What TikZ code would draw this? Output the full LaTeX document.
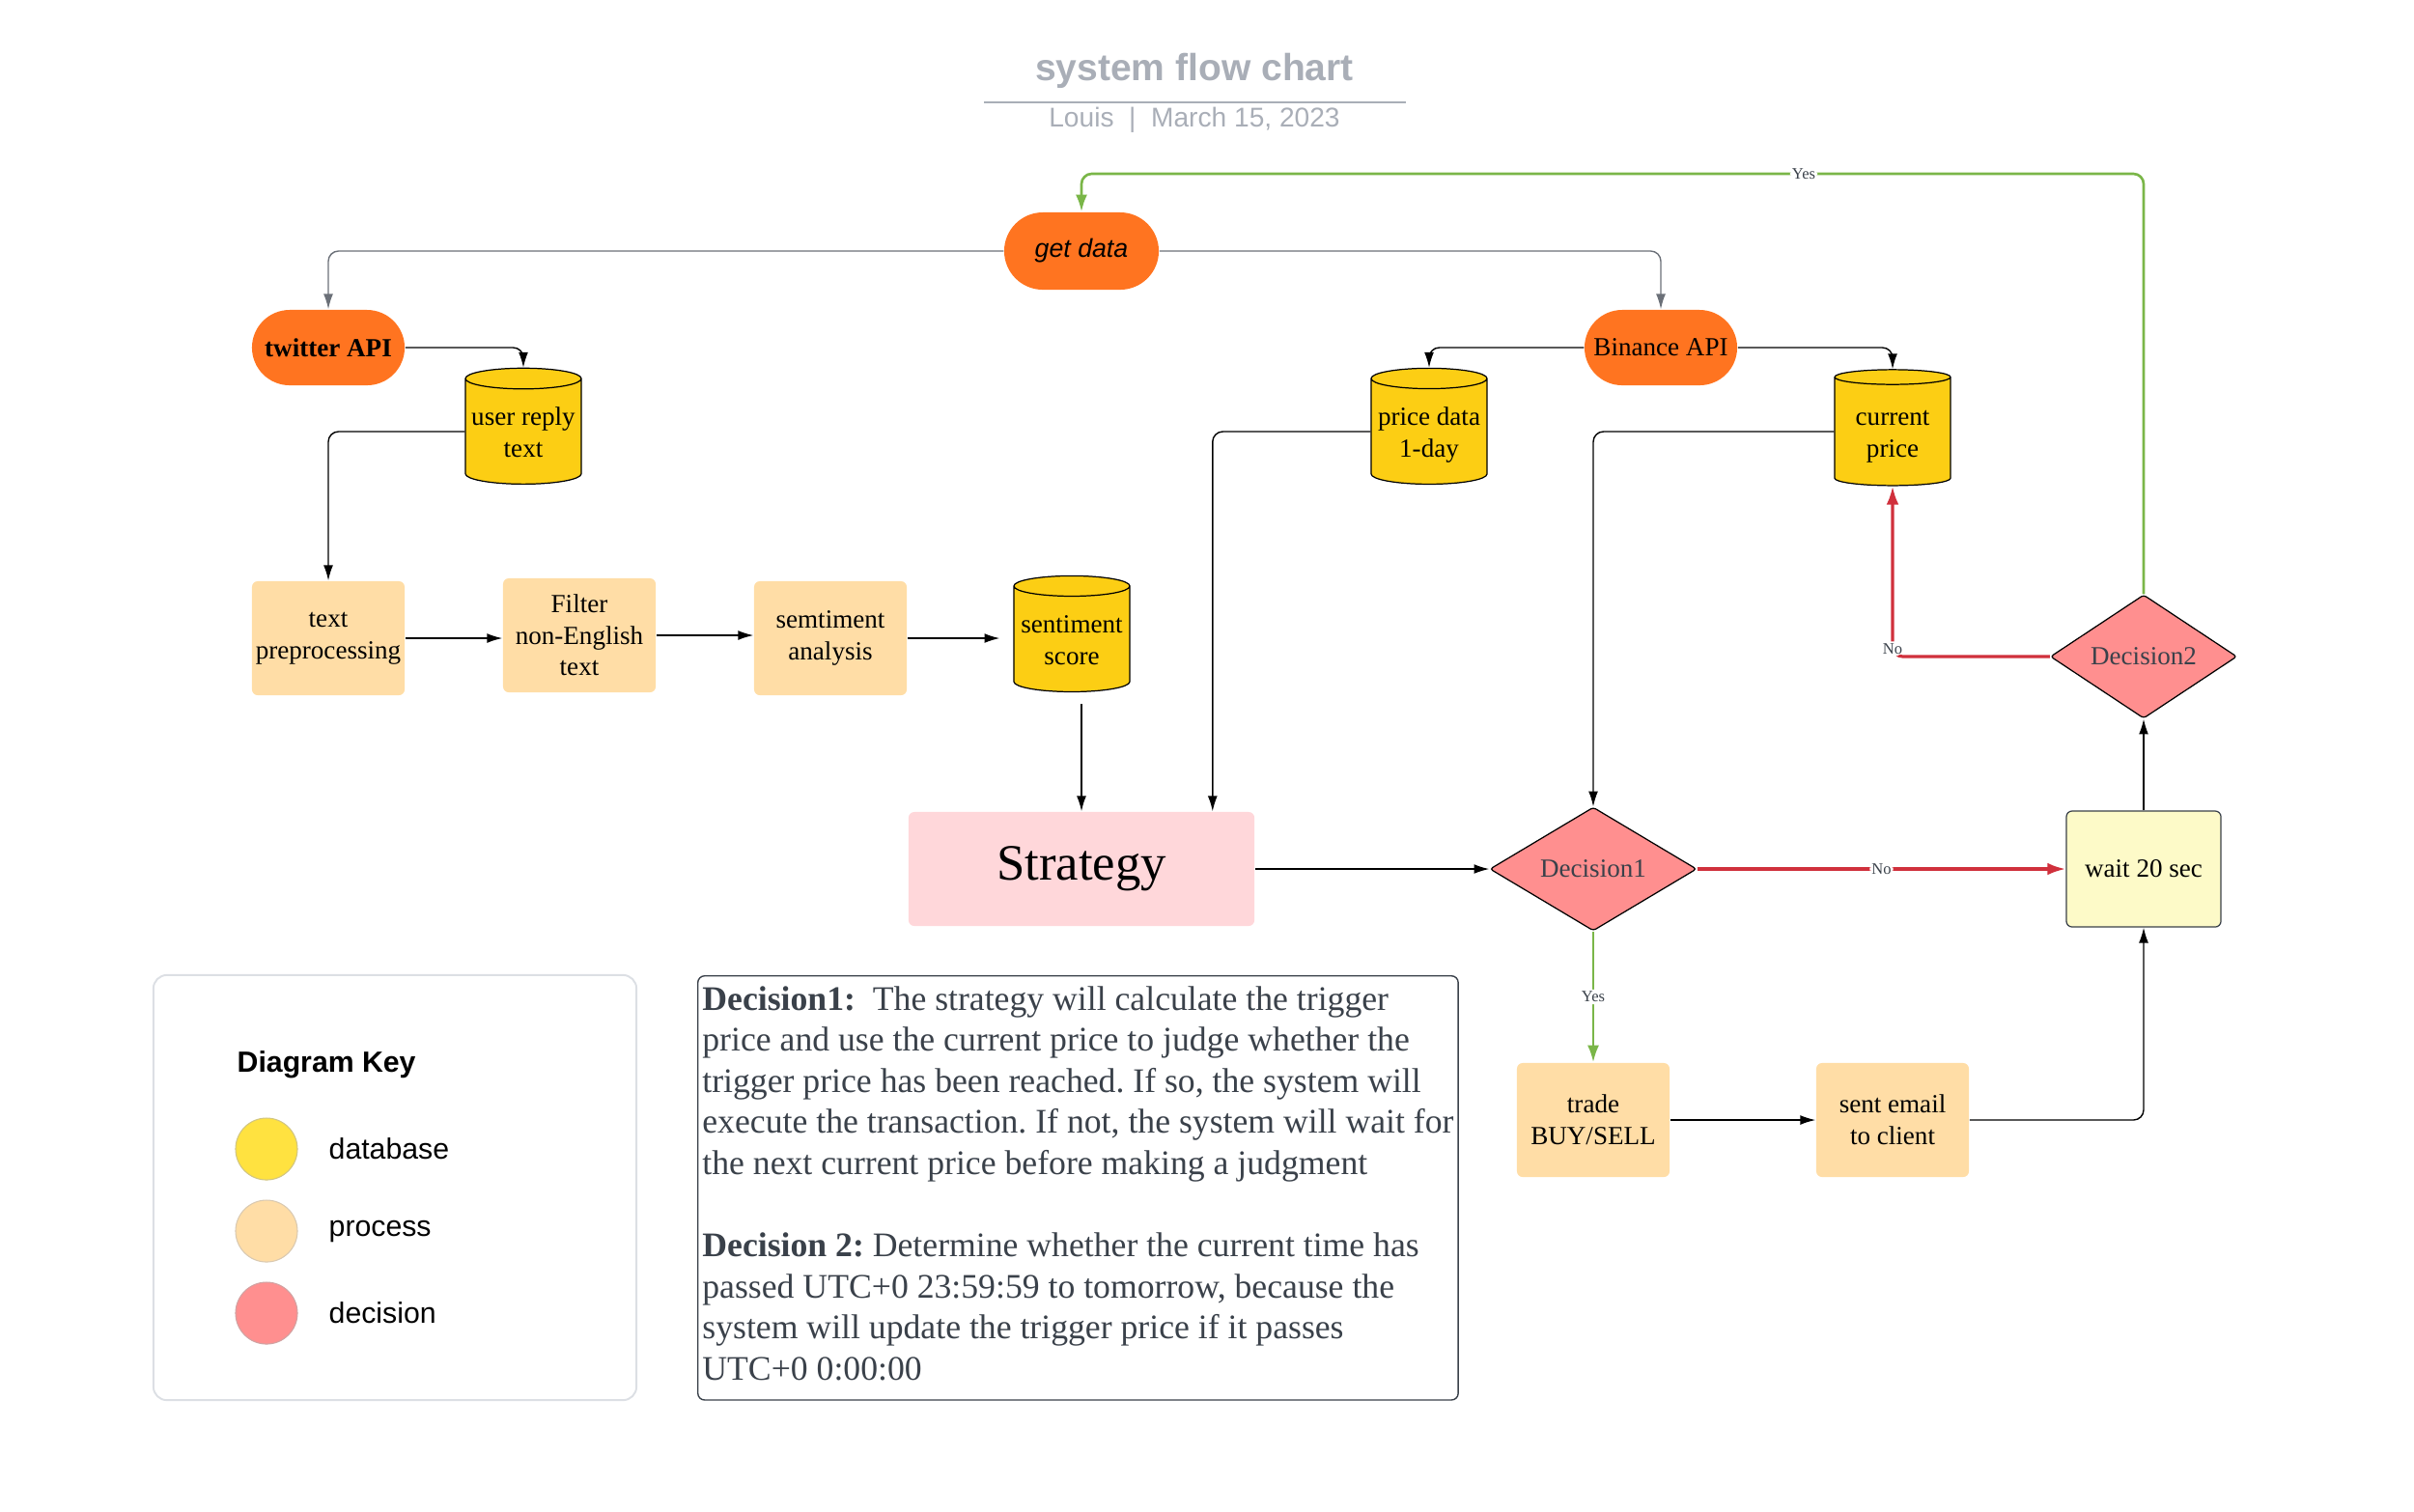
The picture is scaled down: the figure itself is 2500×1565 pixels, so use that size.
\documentclass[tikz,border=0pt]{standalone}
\usepackage{fontspec}
\setmainfont{Liberation Serif}
\setsansfont{Liberation Sans}
\usetikzlibrary{shapes.geometric,arrows.meta}
\definecolor{apiorange}{HTML}{FF7420}
\definecolor{dbyellow}{HTML}{FCCE14}
\definecolor{procfill}{HTML}{FFDDA6}
\definecolor{stratpink}{HTML}{FFD7DA}
\definecolor{decred}{HTML}{FF8F8F}
\definecolor{waitfill}{HTML}{FDFAC8}
\definecolor{noline}{HTML}{D0303C}
\definecolor{yesline}{HTML}{7AB648}
\definecolor{titlegray}{HTML}{A9AEB7}
\definecolor{textgray}{HTML}{3A414A}
\definecolor{linegray}{HTML}{6B7078}
\definecolor{keyborder}{HTML}{DCDFE4}
\definecolor{keyyellow}{HTML}{FFE240}
\newcommand\flowfont{\fontsize{7.7}{9.3}\selectfont}
\tikzset{
  apinode/.style={rectangle, rounded corners=0.39cm, fill=apiorange, minimum width=1.58cm, minimum height=0.78cm, inner sep=0pt, font=\flowfont},
  dbnode/.style={cylinder, shape border rotate=90, aspect=0.2, draw=black, line width=0.35pt, fill=dbyellow, minimum width=1.2cm, minimum height=1.2cm, inner sep=0pt, align=center, text height=16.5pt, text depth=1.7pt, font=\flowfont},
  procnode/.style={rectangle, rounded corners=0.06cm, fill=procfill, minimum width=1.58cm, minimum height=1.18cm, inner sep=0pt, align=center, font=\flowfont},
  decnode/.style={diamond, rounded corners=0.03cm, draw=black, line width=0.35pt, fill=decred, inner sep=0pt, text=textgray, font=\flowfont},
  flow/.style={-{Latex[length=4.5pt,width=2.8pt]}, line width=0.4pt, rounded corners=3pt},
  noflow/.style={flow, draw=noline, line width=0.9pt, -{Latex[length=5.4pt,width=3.6pt]}},
  yesflow/.style={flow, draw=yesline, line width=0.75pt, -{Latex[length=5pt,width=3.4pt]}},
  lbl/.style={font=\fontsize{4.7}{5}\selectfont, text=textgray, fill=white, inner sep=0.6pt},
  keydot/.style={circle, minimum size=0.64cm, inner sep=0pt, line width=0.3pt},
  keytext/.style={anchor=west, inner sep=0pt, font=\sffamily\fontsize{8.6}{10}\selectfont},
}
\begin{document}
\begin{tikzpicture}[x=0.01cm,y=-0.01cm]
\useasboundingbox (0,0) rectangle (2500,1565);
\node[anchor=base, inner sep=0pt, text=titlegray, font=\sffamily\bfseries\fontsize{11.1}{13}\selectfont] (title) at (1237,83) {system flow chart};
\draw[titlegray, line width=0.4pt] (1019,106) -- (1456,106);
\node[anchor=base, inner sep=0pt, text=titlegray, font=\sffamily\fontsize{8}{10}\selectfont] (subtitle) at (1237,131) {Louis\ \ |\ \ March 15, 2023};
\node[apinode, font=\sffamily\itshape\fontsize{7.6}{9}\selectfont, minimum width=1.6cm, minimum height=0.8cm, rounded corners=0.4cm] (getdata) at (1120,260) {get data};
\node[apinode, font=\flowfont\bfseries] (twitter) at (340,360) {twitter API};
\node[apinode] (binance) at (1720,360) {Binance API};
\node[dbnode] (userreply) at (542,447) {user reply\\text};
\node[dbnode] (pricedata) at (1480,447) {price data\\1-day};
\node[dbnode] (curprice) at (1960,447) {current\\price};
\node[procnode] (textprep) at (340,661) {text\\preprocessing};
\node[procnode] (filter) at (600,658) {Filter\\non-English\\text};
\node[procnode] (sentan) at (860,661) {semtiment\\analysis};
\node[dbnode] (score) at (1110,662) {sentiment\\score};
\node[procnode, fill=stratpink, minimum width=3.58cm, font=\fontsize{15}{18}\selectfont] (strategy) at (1120,900) {Strategy};
\node[decnode, minimum width=2.14cm, minimum height=1.16cm] (dec1) at (1650,900) {Decision1};
\node[procnode, fill=waitfill, draw=textgray, line width=0.35pt, minimum width=1.6cm, minimum height=1.2cm] (wait) at (2220,900) {wait 20 sec};
\node[decnode, minimum width=1.93cm, minimum height=1.15cm] (dec2) at (2220,680) {Decision2};
\node[procnode] (trade) at (1650,1160) {trade\\BUY/SELL};
\node[procnode] (email) at (1960,1160) {sent email\\to client};
\coordinate (yestop) at (2220,180);
\draw[flow, draw=linegray] (getdata.west) -| (twitter.north);
\draw[flow, draw=linegray] (getdata.east) -| (binance.north);
\draw[flow] (twitter.east) -| (userreply.north);
\draw[flow] (userreply.west) -| (textprep.north);
\draw[flow] (textprep.east) -- (textprep.east -| filter.west);
\draw[flow] (filter.east) -- (filter.east -| sentan.west);
\draw[flow] (sentan.east) -- ([xshift=-0.14cm]sentan.east -| score.west);
\draw[flow] ([shift={(10,12)}]score.south) -- (strategy.north);
\draw[flow] (pricedata.west) -| ([xshift=-0.44cm]strategy.north east);
\draw[flow] (binance.west) -| (pricedata.north);
\draw[flow] (binance.east) -| (curprice.north);
\draw[flow] (curprice.west) -| (dec1.north);
\draw[flow] (strategy.east) -- (dec1.west);
\draw[noflow] (dec1.east) -- node[lbl]{No} (wait.west);
\draw[yesflow] (dec1.south) -- node[lbl]{Yes} (trade.north);
\draw[flow] (trade.east) -- (email.west);
\draw[flow] (email.east) -| (wait.south);
\draw[flow] (wait.north) -- (dec2.south);
\draw[noflow] (dec2.west) -| node[lbl, yshift=0.08cm]{No} (curprice.south);
\draw[yesflow] (dec2.north) -- (dec2.north |- yestop) -- node[lbl, pos=0.32]{Yes} (getdata.north |- yestop) -- (getdata.north);
\node[draw=keyborder, line width=0.55pt, rounded corners=0.14cm, minimum width=5cm, minimum height=4.4cm] (key) at (409,1230) {};
\node[keytext, font=\sffamily\bfseries\fontsize{8.6}{10}\selectfont] (keytitle) at (245,1103) {Diagram Key};
\node[keydot, fill=keyyellow, draw=keyyellow!70!black!60] (dbdot) at (276,1190) {};
\node[keydot, fill=procfill, draw=procfill!75!black!60] (procdot) at (276,1275) {};
\node[keydot, fill=decred, draw=decred!70!black!60] (decdot) at (276,1360) {};
\node[keytext] (dblabel) at (340,1190) {database};
\node[keytext] (proclabel) at (340,1275) {process};
\node[keytext] (declabel) at (340,1360) {decision};
\node[draw=textgray, line width=0.4pt, rounded corners=0.07cm, anchor=north west, minimum width=7.87cm, minimum height=4.39cm, inner sep=0pt, align=left, text depth=2.9pt, text=textgray, font=\frenchspacing\fontsize{10.15}{12.1}\selectfont] (notes) at (722,1010) {\textbf{Decision1:}\ \ The strategy will calculate the trigger\\
price and use the current price to judge whether the\\
trigger price has been reached. If so, the system will\\
execute the transaction. If not, the system will wait for\\
the next current price before making a judgment\\[12.1pt]
\textbf{Decision 2:} Determine whether the current time has\\
passed UTC+0 23:59:59 to tomorrow, because the\\
system will update the trigger price if it passes\\
UTC+0 0:00:00};
\end{tikzpicture}
\end{document}
